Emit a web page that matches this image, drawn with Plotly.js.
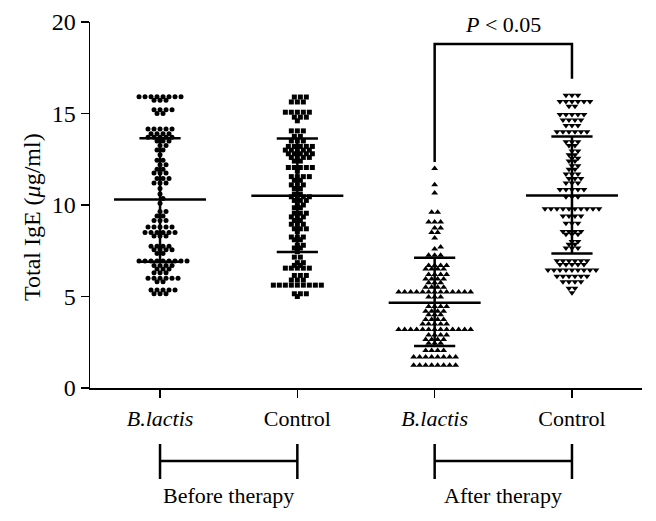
<!DOCTYPE html>
<html>
<head>
<meta charset="utf-8">
<script src="https://cdn.plot.ly/plotly-3.0.1.min.js"></script>
<style>html,body{margin:0;padding:0;background:#fff;}#chart{width:656px;height:521px;}</style>
</head>
<body>
<div id="chart"></div>
<script>
// ---- data ----
var groupNames = ['<i>B.lactis</i>', 'Control', '<i>B.lactis</i>', 'Control'];
var periodNames = ['Before therapy', 'After therapy'];
var yTitle = 'Total IgE (<i>μ</i>g/ml)';

function rep(v, n) { var a = []; for (var i = 0; i < n; i++) a.push(v); return a; }

var beforeLactis = [].concat(
  rep(15.92,8), rep(15.72,3), rep(15.2,4), rep(15.0,2),
  rep(14.15,5), rep(13.9,4), rep(13.7,5), rep(13.5,3), rep(13.25,2), rep(13.0,2), rep(12.75,1),
  rep(12.45,2), rep(12.2,2), rep(11.95,2), rep(11.75,3), rep(11.45,3), rep(11.2,3),
  rep(10.9,1), rep(10.6,1), rep(10.35,1), rep(10.1,1),
  rep(9.65,2), rep(9.4,2), rep(9.15,3), rep(8.8,5), rep(8.5,6), rep(8.3,3),
  rep(7.75,4), rep(7.55,4), rep(7.35,2), rep(6.94,9), rep(6.7,4), rep(6.5,3), rep(6.3,3),
  rep(6.0,6), rep(5.8,2), rep(5.35,5), rep(5.15,3)
);
var beforeControl = [].concat(
  rep(15.9,3), rep(15.63,3), rep(15.07,5), rep(14.8,3), rep(14.6,1), rep(14.05,3),
  rep(13.75,2), rep(13.5,3), rep(13.2,5), rep(13.0,5), rep(12.8,5), rep(12.6,4), rep(12.4,2),
  rep(12.05,5), rep(11.85,1), rep(11.55,4), rep(11.35,2), rep(11.1,3), rep(10.9,2),
  rep(10.6,2), rep(10.45,4), rep(10.25,3), rep(10.0,2), rep(9.85,2), rep(9.55,3), rep(9.35,3),
  rep(9.15,2), rep(8.95,3), rep(8.7,3), rep(8.55,1), rep(8.25,3), rep(8.1,2),
  rep(7.8,2), rep(7.65,2), rep(7.45,1), rep(7.15,2), rep(6.85,2), rep(6.7,2), rep(6.55,5),
  rep(6.15,3), rep(5.9,3), rep(5.62,9), rep(5.15,3), rep(5.0,1)
);
var afterLactis = [].concat(
  [12.0, 11.1, 10.65], rep(9.6,2), rep(9.07,3), rep(8.75,2), rep(8.5,2), [8.2, 7.7, 7.6], rep(7.25,3),
  rep(6.7,4), rep(6.5,4), rep(6.2,4), rep(5.95,4), rep(5.75,3), rep(5.5,4), rep(5.25,13), rep(4.97,3),
  rep(4.45,4), rep(4.2,4), rep(4.0,3), rep(3.75,4), rep(3.5,5), rep(3.2,13),
  rep(2.9,4), rep(2.65,4), rep(2.45,3), rep(2.05,4), rep(1.7,8), rep(1.25,8)
);
var afterControl = [].concat(
  rep(16.0,3), rep(15.65,6), rep(15.4,2), rep(14.95,5), rep(14.65,4), rep(14.35,3), rep(14.0,6),
  rep(13.45,3), rep(13.25,2), rep(12.95,2), rep(12.75,2), rep(12.55,2), rep(12.4,2), rep(12.15,2),
  rep(11.95,2), rep(11.7,3), rep(11.45,3), rep(11.2,3), rep(10.85,5), rep(10.45,3),
  rep(9.8,10), rep(9.4,4), rep(9.0,3), rep(8.55,4), rep(8.4,3), rep(8.0,2), rep(7.85,2), rep(7.65,3),
  rep(6.95,6), rep(6.75,5), rep(6.45,9), rep(6.1,6), rep(5.8,4), rep(5.45,2), rep(5.2,1)
);

var means = [10.3, 10.5, 4.66, 10.52];
var sdUpper = [13.65, 13.63, 7.12, 13.75];
var sdLower = [6.9, 7.43, 2.3, 7.35];

var pBracketY = 18.8, pBracketLeftEnd = 12.35, pBracketRightEnd = 16.9;
var pText = '<i>P</i> < 0.05';

// ---- layout constants ----
var W = 656, H = 521;
var M = {l: 90, r: 14, t: 22, b: 133};
var xRange = [0.49, 4.51], yRange = [0, 20];
var pxPerX = (W - M.l - M.r) / (xRange[1] - xRange[0]);
var pxPerY = (H - M.t - M.b) / (yRange[1] - yRange[0]);

// row-based scatter-dot layout: equal values share a row,
// neighbouring rows are staggered to avoid overlap. Returns x offsets in data units.
function rowSwarm(vals, s, d) {
  var counts = {};
  vals.forEach(function (v) { counts[v] = (counts[v] || 0) + 1; });
  var keys = Object.keys(counts).map(Number).sort(function (a, b) { return a - b; });
  var placed = [], offsetsByVal = {};
  keys.forEach(function (v) {
    var n = counts[v], y = v * pxPerY, base = [];
    for (var i = 0; i < n; i++) base.push((i - (n - 1) / 2) * s);
    var shifts = [0, s / 2, -s / 2, s, -s], best = null, bestD = -1;
    for (var k = 0; k < shifts.length; k++) {
      var minD = Infinity;
      base.forEach(function (b) {
        var x = b + shifts[k];
        placed.forEach(function (p) {
          var dd = Math.hypot(p.x - x, p.y - y);
          if (dd < minD) minD = dd;
        });
      });
      if (minD >= d) { best = shifts[k]; break; }
      if (minD > bestD) { bestD = minD; best = shifts[k]; }
    }
    offsetsByVal[v] = base.map(function (b) { return b + best; });
    offsetsByVal[v].forEach(function (x) { placed.push({x: x, y: y}); });
  });
  var used = {};
  return vals.map(function (v) {
    var i = used[v] || 0; used[v] = i + 1;
    return offsetsByVal[v][i] / pxPerX;
  });
}

var groups = [beforeLactis, beforeControl, afterLactis, afterControl];
var symbols = ['circle', 'square', 'triangle-up', 'triangle-down'];
var msizes = [5, 5, 6, 6];

var traces = [];
groups.forEach(function (g, gi) {
  var off = rowSwarm(g, 6, 5);
  traces.push({
    type: 'scatter', mode: 'markers',
    x: off.map(function (o) { return gi + 1 + o; }),
    y: g,
    marker: {symbol: symbols[gi], size: msizes[gi], color: '#000', line: {width: 0}},
    hoverinfo: 'skip', showlegend: false, cliponaxis: false
  });
});

var meanHalf = 0.335, sdHalf = 0.15;
var lx = [], ly = [];
means.forEach(function (m, gi) {
  var c = gi + 1;
  lx.push(c - meanHalf, c + meanHalf, null, c - sdHalf, c + sdHalf, null, c - sdHalf, c + sdHalf, null, c, c, null);
  ly.push(m, m, null, sdUpper[gi], sdUpper[gi], null, sdLower[gi], sdLower[gi], null, sdLower[gi], sdUpper[gi], null);
});
traces.push({type: 'scatter', mode: 'lines', x: lx, y: ly, line: {color: '#000', width: 2.5},
  hoverinfo: 'skip', showlegend: false, connectgaps: false});

var font = 'Liberation Serif, Times New Roman, serif';
var fs = 22;

function py(pix) { return (H - M.b - pix) / (H - M.t - M.b); }
function px(pix) { return (pix - M.l) / (W - M.l - M.r); }

var shapes = [
  {type: 'path', xref: 'x', yref: 'y',
   path: 'M 3,' + pBracketLeftEnd + ' L 3,' + pBracketY + ' L 4,' + pBracketY + ' L 4,' + pBracketRightEnd,
   line: {color: '#000', width: 2.5}}
];
[[1, 2], [3, 4]].forEach(function (pr) {
  shapes.push({type: 'line', xref: 'x', yref: 'paper', x0: pr[0], x1: pr[1], y0: py(461), y1: py(461), line: {color: '#000', width: 2.5}});
  shapes.push({type: 'line', xref: 'x', yref: 'paper', x0: pr[0], x1: pr[0], y0: py(444), y1: py(479), line: {color: '#000', width: 2.5}});
  shapes.push({type: 'line', xref: 'x', yref: 'paper', x0: pr[1], x1: pr[1], y0: py(444), y1: py(479), line: {color: '#000', width: 2.5}});
});

var annotations = [
  {xref: 'x', yref: 'y', x: 3.5, y: 19.85, text: pText, showarrow: false, font: {family: font, size: fs, color: '#000'}, yanchor: 'middle'},
  {xref: 'x', yref: 'paper', x: 1.5, y: py(495), text: periodNames[0], showarrow: false, font: {family: font, size: fs, color: '#000'}, yanchor: 'middle'},
  {xref: 'x', yref: 'paper', x: 3.5, y: py(495), text: periodNames[1], showarrow: false, font: {family: font, size: fs, color: '#000'}, yanchor: 'middle'},
  {xref: 'paper', yref: 'paper', x: px(32), y: py(217), text: yTitle, textangle: -90, showarrow: false,
   xanchor: 'center', yanchor: 'middle', font: {family: font, size: 24, color: '#000'}}
];

var layout = {
  width: W, height: H,
  margin: M,
  paper_bgcolor: '#fff', plot_bgcolor: '#fff',
  font: {family: font, size: fs, color: '#000'},
  showlegend: false,
  xaxis: {
    range: xRange, tickvals: [1, 2, 3, 4], ticktext: groupNames,
    showline: true, linecolor: '#000', linewidth: 1.5,
    ticks: 'outside', ticklen: 8, tickwidth: 1.5, tickcolor: '#000',
    showgrid: false, zeroline: false, ticklabelstandoff: 2,
    tickfont: {family: font, size: fs, color: '#000'}
  },
  yaxis: {
    range: yRange, tickvals: [0, 5, 10, 15, 20],
    showline: true, linecolor: '#000', linewidth: 1.5,
    ticks: 'outside', ticklen: 8, tickwidth: 1.5, tickcolor: '#000',
    showgrid: false, zeroline: false,
    tickfont: {family: font, size: 24, color: '#000'}
  },
  shapes: shapes,
  annotations: annotations
};

Plotly.newPlot('chart', traces, layout, {staticPlot: true, displayModeBar: false});
</script>
</body>
</html>
